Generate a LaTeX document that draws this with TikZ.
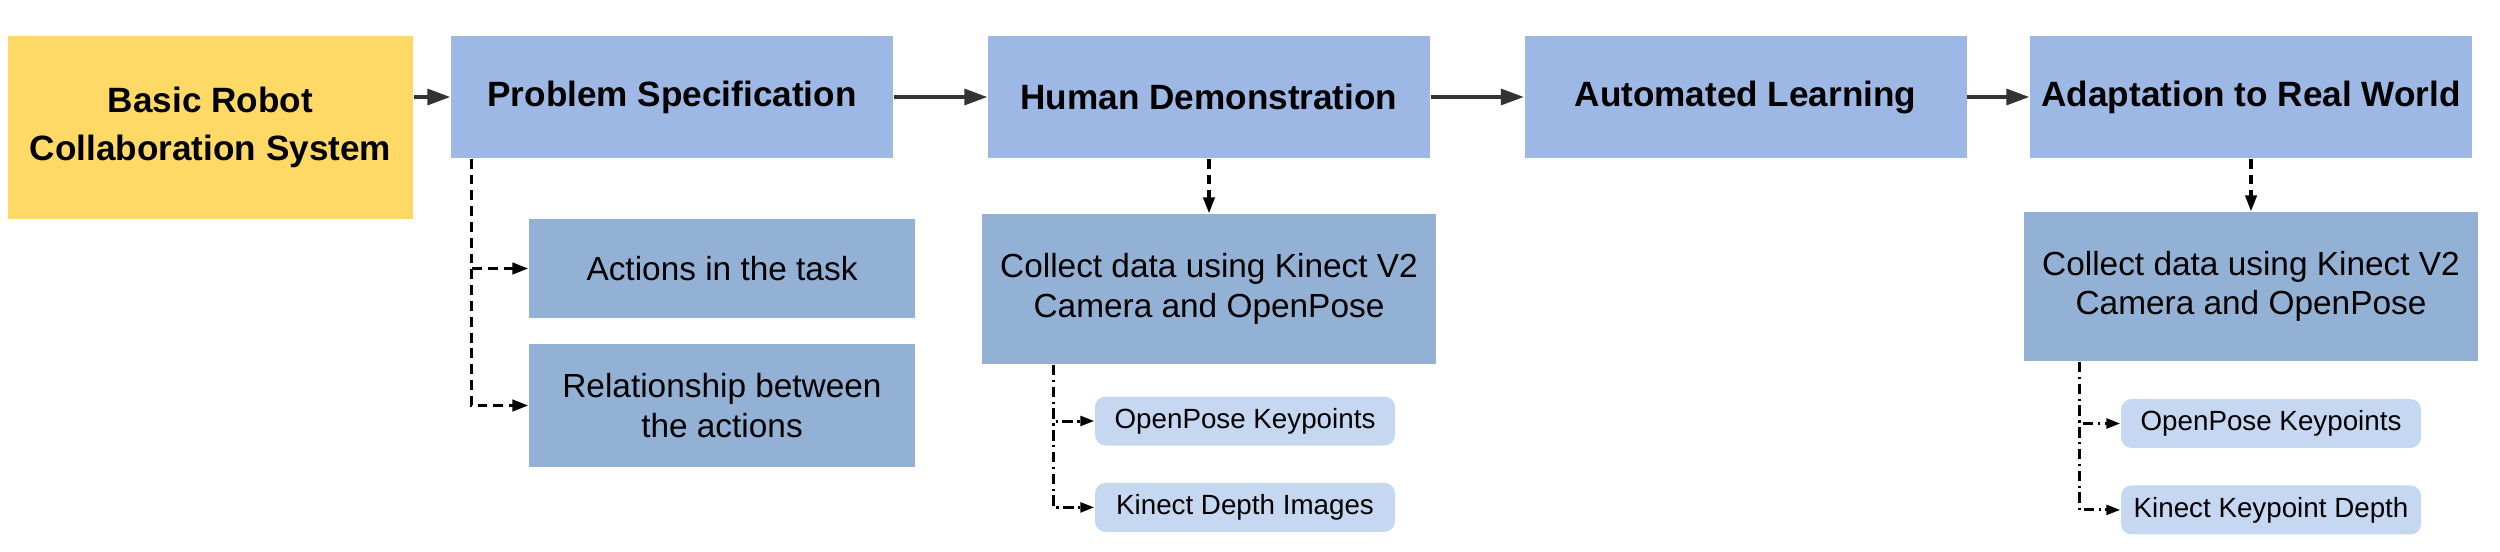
\documentclass[tikz,border=0pt]{standalone}
\usepackage{fontspec}
\setmainfont{Liberation Sans}
\definecolor{RCyellow}{HTML}{FFD966}
\definecolor{RCblue}{HTML}{9EB8E6}
\definecolor{RCsteel}{HTML}{92B1D5}
\definecolor{RCpale}{HTML}{C6D7F1}
\definecolor{RCdark}{HTML}{333333}
\usetikzlibrary{arrows.meta, positioning}

\begin{document}
\begin{tikzpicture}[
      stage/.style={fill=RCblue, minimum width=4.42cm, minimum height=1.22cm,
         inner sep=0pt, align=center, font=\fontsize{10}{13.5}\selectfont\bfseries},
      task/.style={fill=RCsteel, inner sep=0pt, align=center,
         font=\fontsize{9.5}{11.3}\selectfont},
      item/.style={fill=RCpale, rounded corners=3pt, minimum width=3cm,
         minimum height=0.49cm, inner sep=0pt, font=\fontsize{7.9}{9}\selectfont},
      flow/.style={-{Triangle[length=6.5pt,width=4.5pt]}, line width=1pt, RCdark},
      sub/.style={-{Triangle[length=4.5pt,width=3.2pt]}, line width=0.9pt,
         dash pattern=on 2.8pt off 1.7pt},
      subdot/.style={-{Triangle[length=4pt,width=2.8pt]}, line width=0.85pt,
         dash pattern=on 3pt off 1.3pt on 0.6pt off 1.3pt}]
            \useasboundingbox (0,0) rectangle (25,-5.51);
            % Pipeline stages
            \node[fill=RCyellow, minimum width=4.05cm, minimum height=1.83cm, inner sep=0pt,
               align=center, font=\fontsize{10}{13.5}\selectfont\bfseries]
               (base) at (2.105,-1.275) {Basic Robot\\Collaboration System};
            \node[stage] (spec) at (6.72,-0.97) {Problem Specification};
            \node[stage] (demo) at (12.09,-0.97) {Human Demonstration};
            \node[stage] (learn) at (17.455,-0.97) {Automated Learning};
            \node[stage] (adapt) at (22.51,-0.97) {Adaptation to Real World};
            % Main flow
            \draw[flow] (base.east |- spec.west) -- (spec.west);
            \draw[flow] (spec) -- (demo);
            \draw[flow] (demo) -- (learn);
            \draw[flow] (learn) -- (adapt);
            % Problem specification parts
            \node[task, minimum width=3.86cm, minimum height=0.99cm]
               (actions) at (7.22,-2.685) {Actions in the task};
            \node[task, minimum width=3.86cm, minimum height=1.23cm]
               (relation) at (7.22,-4.055) {Relationship between\\the actions};
            \coordinate (specdrop) at ([xshift=0.21cm]spec.south west);
            \draw[sub] (specdrop) |- (actions.west);
            \draw[sub] (specdrop) |- (relation.west);
            % Data collection (demonstration)
            \node[task, minimum width=4.54cm, minimum height=1.5cm]
               (collectA) at (12.09,-2.89) {Collect data using Kinect V2\\Camera and OpenPose};
            \draw[sub] (demo) -- (collectA);
            \node[item] (kpA) at (12.45,-4.21) {OpenPose Keypoints};
            \node[item, below=0.36cm of kpA] (depthA) {Kinect Depth Images};
            \coordinate (dropA) at ([xshift=0.72cm]collectA.south west);
            \draw[subdot] (dropA) |- (kpA.west);
            \draw[subdot] (dropA) |- (depthA.west);
            % Data collection (real world)
            \node[task, minimum width=4.54cm, minimum height=1.49cm]
               (collectB) at (22.51,-2.865) {Collect data using Kinect V2\\Camera and OpenPose};
            \draw[sub] (adapt) -- (collectB);
            \node[item] (kpB) at (22.71,-4.235) {OpenPose Keypoints};
            \node[item, below=0.36cm of kpB] (depthB) {Kinect Keypoint Depth};
            \coordinate (dropB) at ([xshift=0.56cm]collectB.south west);
            \draw[subdot] (dropB) |- (kpB.west);
            \draw[subdot] (dropB) |- (depthB.west);
         \end{tikzpicture}
\end{document}
